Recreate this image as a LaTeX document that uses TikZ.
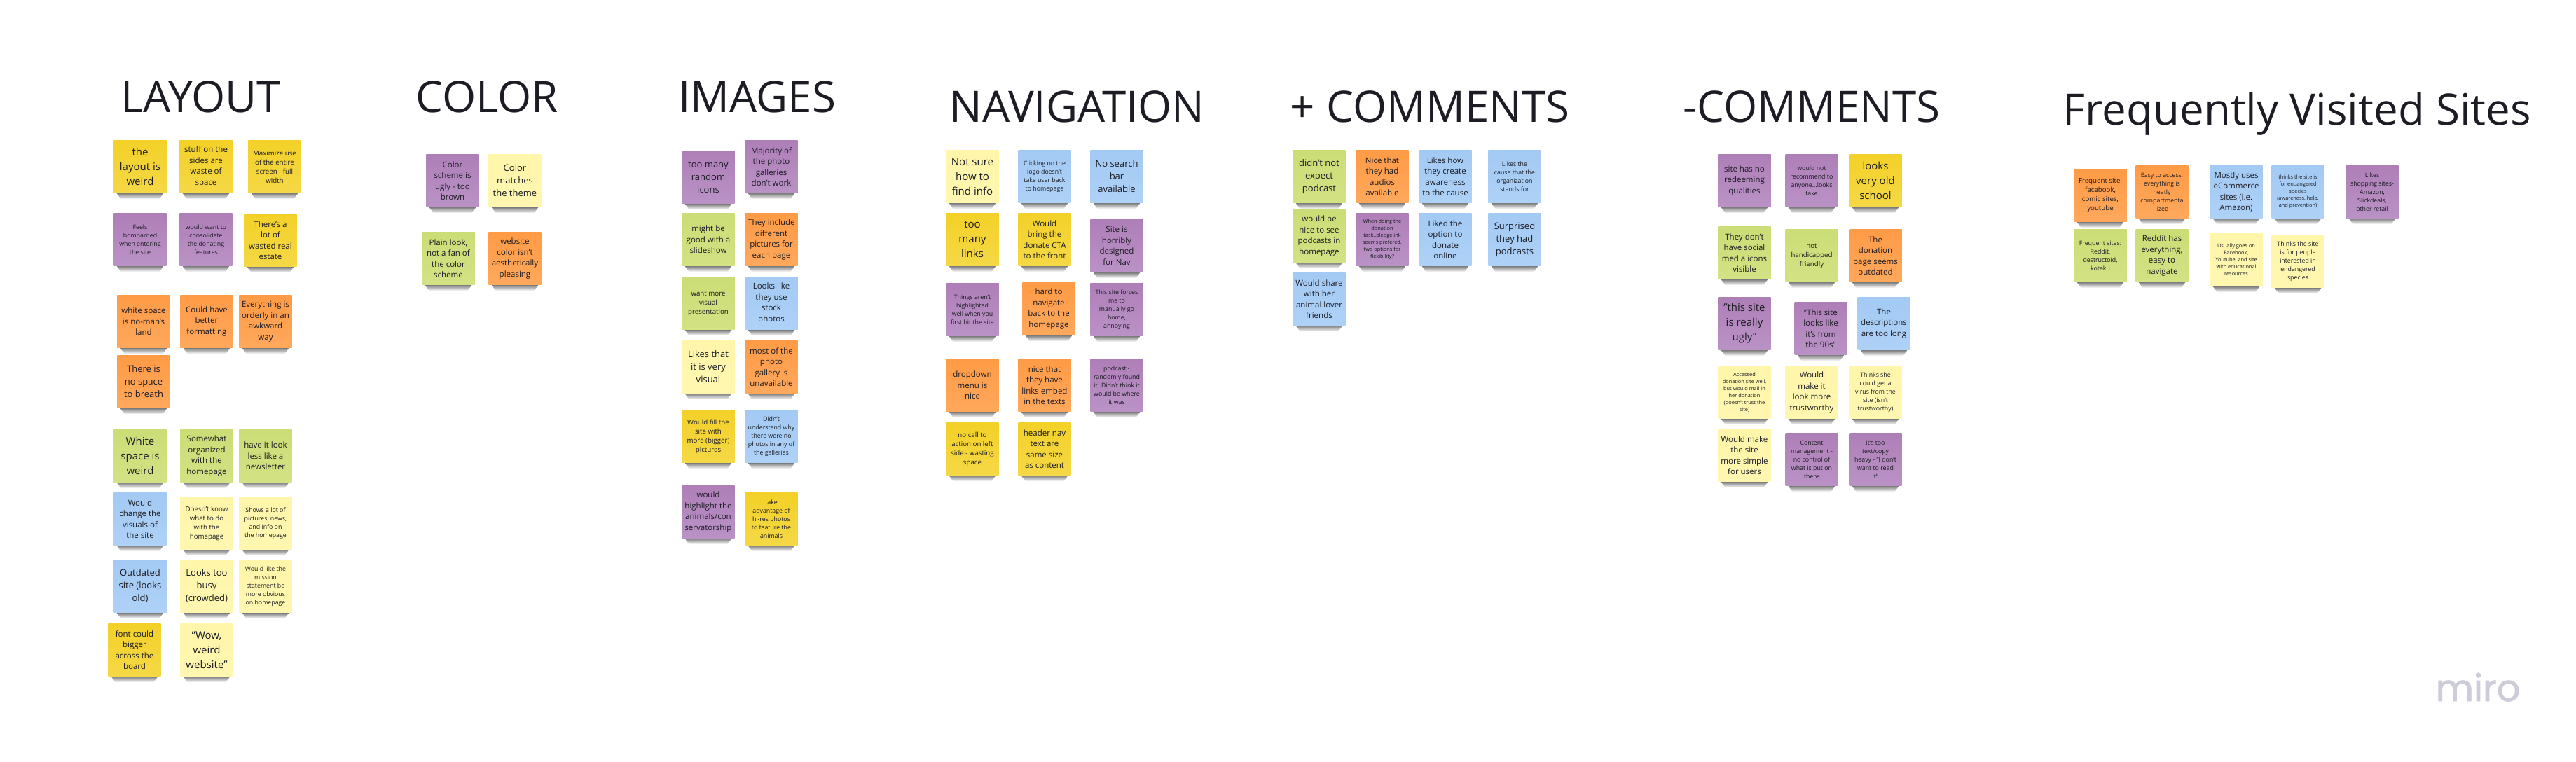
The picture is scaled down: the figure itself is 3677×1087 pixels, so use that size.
\documentclass[tikz,border=0pt]{standalone}
\usepackage{fontspec}
\setmainfont{Open Sans}
\newfontfamily\mirofont{Poppins}[FakeBold=1.6]
\usetikzlibrary{calc}
\definecolor{inktext}{HTML}{1C1C24}
\definecolor{mirogrey}{HTML}{CDCDD9}
\begin{document}
\begin{tikzpicture}[x=.01cm, y=-.01cm,
                    title/.style={anchor=base west, inner sep=0pt, text=inktext, font=\fontsize{17.6}{20}\selectfont},
                    note/.style={inner sep=0pt, minimum width=.75cm, minimum height=.75cm, align=center, text=inktext,
                      append after command={\pgfextra{\shade[top color=black!50, bottom color=white]
                        ($(\tikzlastnode.south west)+(5,0)$) -- ($(\tikzlastnode.south east)+(-5,0)$) --
                        ($(\tikzlastnode.south east)+(-11,8)$) -- ($(\tikzlastnode.south west)+(11,8)$) -- cycle;}}},
                    amber/.style={note, top color={rgb,255:red,243;green,209;blue,40}, bottom color={rgb,255:red,245;green,216;blue,70}},
                    pale/.style={note, top color={rgb,255:red,255;green,246;blue,170}, bottom color={rgb,255:red,255;green,247;blue,176}},
                    violet/.style={note, top color={rgb,255:red,174;green,127;blue,183}, bottom color={rgb,255:red,186;green,146;blue,198}},
                    peach/.style={note, top color={rgb,255:red,255;green,155;blue,70}, bottom color={rgb,255:red,255;green,168;blue,92}},
                    lime/.style={note, top color={rgb,255:red,203;green,221;blue,118}, bottom color={rgb,255:red,211;green,226;blue,132}},
                    sky/.style={note, top color={rgb,255:red,163;green,202;blue,244}, bottom color={rgb,255:red,174;green,209;blue,247}},
                    szA/.style={font=\fontsize{4.27}{5.97}\selectfont},
                    szB/.style={font=\fontsize{3.7}{5.12}\selectfont},
                    szC/.style={font=\fontsize{3.27}{4.41}\selectfont},
                    szD/.style={font=\fontsize{2.76}{3.7}\selectfont},
                    szE/.style={font=\fontsize{2.5}{3.41}\selectfont},
                    szF/.style={font=\fontsize{2.1}{2.85}\selectfont}]
\path[use as bounding box, fill=white] (0,0) rectangle (3677,1087);
\node[title] (tlay) at (172,160) {LAYOUT};
\node[title] (tcol) at (593,160) {COLOR};
\node[title] (timg) at (968,160) {IMAGES};
\node[title] (tnav) at (1355,174) {NAVIGATION};
\node[title] (tpos) at (1841,174) {+ COMMENTS};
\node[title] (tneg) at (2402,174) {-COMMENTS};
\node[title] (tfre) at (2944,178) {Frequently Visited Sites};
\node[amber, szA] (lay1) at (200,238) {the\\layout is\\weird};
\node[amber, szC] (lay2) at (294,238) {stuff on the\\sides are\\waste of\\space};
\node[amber, szD] (lay3) at (392,238) {Maximize use\\of the entire\\screen - full\\width};
\node[violet, szE] (lay4) at (200,342) {Feels\\bombarded\\when entering\\the site};
\node[violet, szE] (lay5) at (294,342) {would want to\\consolidate\\the donating\\features};
\node[amber, szC] (lay6) at (386,343) {There's a\\lot of\\wasted real\\estate};
\node[peach, szC] (lay7) at (205,459) {white space\\is no-man's\\land};
\node[peach, szC] (lay8) at (295,459) {Could have\\better\\formatting};
\node[peach, szC] (lay9) at (379,459) {Everything is\\orderly in an\\awkward\\way};
\node[peach, szB] (lay10) at (205,545) {There is\\no space\\to breath};
\node[lime, szA] (lay11) at (200,651) {White\\space is\\weird};
\node[lime, szC] (lay12) at (295,651) {Somewhat\\organized\\with the\\homepage};
\node[lime, szC] (lay13) at (379,651) {have it look\\less like a\\newsletter};
\node[sky, szC] (lay14) at (200,741) {Would\\change the\\visuals of\\the site};
\node[pale, szD] (lay15) at (295,747) {Doesn't know\\what to do\\with the\\homepage};
\node[pale, szE] (lay16) at (379,747) {Shows a lot of\\pictures, news,\\and info on\\the homepage};
\node[sky, szB] (lay17) at (200,837) {Outdated\\site (looks\\old)};
\node[pale, szB] (lay18) at (295,837) {Looks too\\busy\\(crowded)};
\node[pale, szE] (lay19) at (379,837) {Would like the\\mission\\statement be\\more obvious\\on homepage};
\node[amber, szC] (lay20) at (192,928) {font could\\bigger\\across the\\board};
\node[pale, szA] (lay21) at (295,928) {"Wow,\\weird\\website"};
\node[violet, szC] (col1) at (646,258) {Color\\scheme is\\ugly - too\\brown};
\node[pale, szB] (col2) at (735,258) {Color\\matches\\the theme};
\node[lime, szC] (col3) at (640,369) {Plain look,\\not a fan of\\the color\\scheme};
\node[peach, szC] (col4) at (735,369) {website\\color isn't\\aesthetically\\pleasing};
\node[violet, szB] (img1) at (1011,253) {too many\\random\\icons};
\node[violet, szC] (img2) at (1101,238) {Majority of\\the photo\\galleries\\don't work};
\node[lime, szC] (img3) at (1011,342) {might be\\good with a\\slideshow};
\node[peach, szC] (img4) at (1101,342) {They include\\different\\pictures for\\each page};
\node[lime, szD] (img5) at (1011,433) {want more\\visual\\presentation};
\node[sky, szC] (img6) at (1101,433) {Looks like\\they use\\stock\\photos};
\node[pale, szB] (img7) at (1011,524) {Likes that\\it is very\\visual};
\node[peach, szC] (img8) at (1101,524) {most of the\\photo\\gallery is\\unavailable};
\node[amber, szD] (img9) at (1011,623) {Would fill the\\site with\\more (bigger)\\pictures};
\node[sky, szE] (img10) at (1101,623) {Didn't\\understand why\\there were no\\photos in any of\\the galleries};
\node[violet, szC] (img11) at (1011,731) {would\\highlight the\\animals/con\\servatorship};
\node[amber, szE] (img12) at (1101,741) {take\\advantage of\\hi-res photos\\to feature the\\animals};
\node[pale, szA] (nav1) at (1388,252) {Not sure\\how to\\find info};
\node[sky, szE] (nav2) at (1491,252) {Clicking on the\\logo doesn't\\take user back\\to homepage};
\node[sky, szB] (nav3) at (1594,252) {No search\\bar\\available};
\node[amber, szA] (nav4) at (1388,342) {too\\many\\links};
\node[amber, szC] (nav5) at (1491,342) {Would\\bring the\\donate CTA\\to the front};
\node[violet, szC] (nav6) at (1594,351) {Site is\\horribly\\designed\\for Nav};
\node[violet, szE] (nav7) at (1388,442) {Things aren't\\highlighted\\well when you\\first hit the site};
\node[peach, szC] (nav8) at (1497,441) {hard to\\navigate\\back to the\\homepage};
\node[violet, szE] (nav9) at (1594,442) {This site forces\\me to\\manually go\\home,\\annoying};
\node[peach, szC] (nav10) at (1388,550) {dropdown\\menu is\\nice};
\node[peach, szC] (nav11) at (1491,550) {nice that\\they have\\links embed\\in the texts};
\node[violet, szE] (nav12) at (1594,550) {podcast -\\randomly found\\it. Didn't think it\\would be where\\it was};
\node[amber, szD] (nav13) at (1388,641) {no call to\\action on left\\side - wasting\\space};
\node[amber, szC] (nav14) at (1491,641) {header nav\\text are\\same size\\as content};
\node[lime, szB] (pos1) at (1883,252) {didn't not\\expect\\podcast};
\node[peach, szC] (pos2) at (1973,252) {Nice that\\they had\\audios\\available};
\node[sky, szC] (pos3) at (2063,252) {Likes how\\they create\\awareness\\to the cause};
\node[sky, szE] (pos4) at (2162,252) {Likes the\\cause that the\\organization\\stands for};
\node[lime, szC] (pos5) at (1883,337) {would be\\nice to see\\podcasts in\\homepage};
\node[violet, szF] (pos6) at (1973,342) {When doing the\\donation\\task..pledgelink\\seems prefered.\\two options for\\flexibility?};
\node[sky, szC] (pos7) at (2063,342) {Liked the\\option to\\donate\\online};
\node[sky, szB] (pos8) at (2162,342) {Surprised\\they had\\podcasts};
\node[sky, szC] (pos9) at (1883,427) {Would share\\with her\\animal lover\\friends};
\node[violet, szC] (neg1) at (2490,258) {site has no\\redeeming\\qualities};
\node[violet, szE] (neg2) at (2586,258) {would not\\recommend to\\anyone...looks\\fake};
\node[amber, szA] (neg3) at (2677,258) {looks\\very old\\school};
\node[lime, szC] (neg4) at (2490,361) {They don't\\have social\\media icons\\visible};
\node[lime, szD] (neg5) at (2586,365) {not\\handicapped\\friendly};
\node[peach, szC] (neg6) at (2677,365) {The\\donation\\page seems\\outdated};
\node[violet, szA] (neg7) at (2490,462) {"this site\\is really\\ugly"};
\node[violet, szC] (neg8) at (2599,469) {"This site\\looks like\\it's from\\the 90s"};
\node[sky, szC] (neg9) at (2689,462) {The\\descriptions\\are too long};
\node[pale, szF] (neg10) at (2490,560) {Accessed\\donation site well,\\but would mail in\\her donation\\(doesn't trust the\\site)};
\node[pale, szC] (neg11) at (2586,560) {Would\\make it\\look more\\trustworthy};
\node[pale, szE] (neg12) at (2677,560) {Thinks she\\could get a\\virus from the\\site (isn't\\trustworthy)};
\node[pale, szC] (neg13) at (2490,650) {Would make\\the site\\more simple\\for users};
\node[violet, szE] (neg14) at (2586,656) {Content\\management -\\no control of\\what is put on\\there};
\node[violet, szE] (neg15) at (2677,656) {it's too\\text/copy\\heavy - "I don't\\want to read\\it"};
\node[peach, szD] (fre1) at (2998,279) {Frequent site:\\facebook,\\comic sites,\\youtube};
\node[peach, szE] (fre2) at (3086,274) {Easy to access,\\everything is\\neatly\\compartmenta\\lized};
\node[sky, szC] (fre3) at (3192,274) {Mostly uses\\eCommerce\\sites (i.e.\\Amazon)};
\node[sky, szF] (fre4) at (3280,274) {thinks the site is\\for endangered\\species\\(awareness, help,\\and prevention)};
\node[violet, szE] (fre5) at (3386,274) {Likes\\shopping sites-\\Amazon,\\Slickdeals,\\other retail};
\node[lime, szE] (fre6) at (2998,365) {Frequent sites:\\Reddit,\\destructoid,\\kotaku};
\node[lime, szC] (fre7) at (3086,365) {Reddit has\\everything,\\easy to\\navigate};
\node[pale, szF] (fre8) at (3192,371) {Usually goes on\\Facebook,\\Youtube, and site\\with educational\\resources};
\node[pale, szE] (fre9) at (3280,373) {Thinks the site\\is for people\\interested in\\endangered\\species};
\node[anchor=base west, inner sep=0pt, text=mirogrey, font=\mirofont\fontsize{15}{18}\selectfont] (logo) at (3476,1001) {miro};
\end{tikzpicture}
\end{document}
